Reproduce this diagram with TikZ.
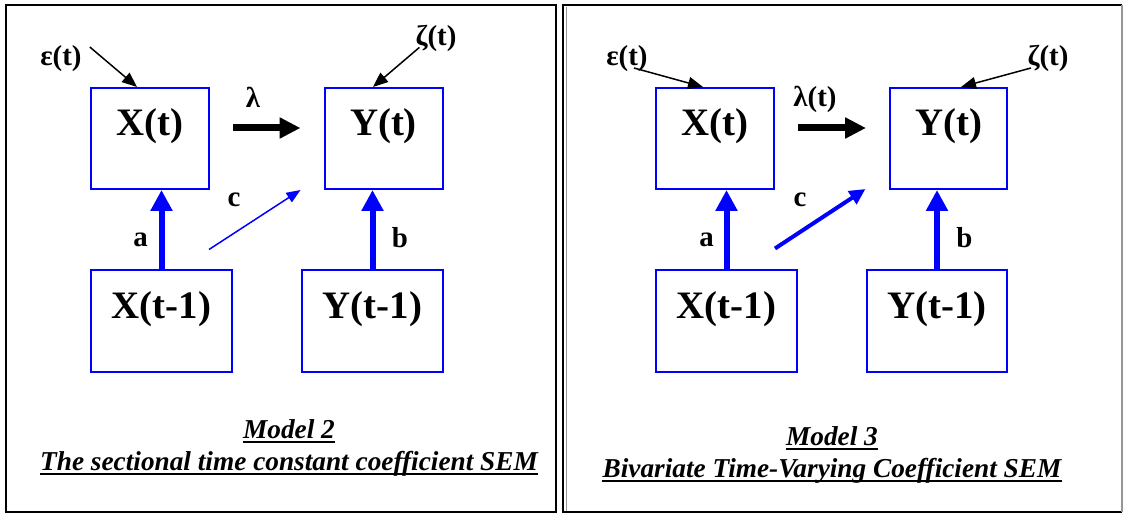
\documentclass[tikz,border=0pt]{standalone}
\usepackage{fontspec}
\setmainfont{Liberation Serif}
\usepackage{tikz}
\usetikzlibrary{arrows.meta, calc}
\definecolor{semblue}{RGB}{0,0,255}
\definecolor{framegray}{RGB}{150,150,150}
\tikzset{
  varbox/.style={rectangle, draw=semblue, line width=2bp, inner sep=0pt,
    text height=48bp, text depth=53bp, font=\fontsize{39}{40}\selectfont\bfseries},
  lbl/.style={inner sep=0pt, font=\fontsize{29}{30}\selectfont\bfseries},
  captext/.style={inner sep=0pt, anchor=base, font=\fontsize{27.4}{29}\selectfont\bfseries\itshape},
  errarrow/.style={-{Triangle[length=15bp,width=12bp]}, line width=1.5bp, black},
  lambdaarrow/.style={-{Triangle[length=21bp,width=20bp]}, line width=7bp, black},
  lagarrow/.style={-{Triangle[length=21bp,width=21bp]}, line width=6bp, color=semblue},
  crossarrow/.style={-{Triangle[length=14bp,width=11bp]}, line width=1.5bp, color=semblue},
  uline/.style={line width=2bp, black}
}

\begin{document}
\begin{tikzpicture}[x=1bp, y=-1bp]
  \useasboundingbox (0,0) rectangle (1124,514);

  % Frames
  \draw[line width=2.5bp] (6,5) rectangle (556,512);
  \draw[line width=2.5bp] (1122,5) -- (563,5) -- (563,512) -- (1122,512);
  \draw[framegray, line width=1bp] (566.5,7) -- (566.5,511);
  \draw[framegray, line width=1.5bp] (1122,5) -- (1122,512);

  % Model 2
  \node[varbox, minimum width=118bp] (xtA) at (150,138.5) {X(t)};
  \node[varbox, minimum width=118bp] (ytA) at (383.5,138.5) {Y(t)};
  \node[varbox, minimum width=141bp] (xlagA) at (161.5,321) {X(t-1)};
  \node[varbox, minimum width=141bp] (ylagA) at (372.5,321) {Y(t-1)};
  \node[lbl] (epsA) at (61,59) {ε(t)};
  \node[lbl] (zetaA) at (436,38) {ζ(t)};
  \node[lbl] (lamA) at (253,97) {λ};
  \node[lbl] (aA) at (140.5,240) {a};
  \node[lbl] (bA) at (400,237.5) {b};
  \node[lbl] (cA) at (234,200) {c};
  \draw[errarrow] ($(epsA.east)+(8,-12)$) -- ($(xtA.north)+(-13,0)$);
  \draw[errarrow] ($(zetaA.south west)+(4,-4)$) -- ($(ytA.north)+(-10.5,0)$);
  \draw[lambdaarrow, shorten <=23bp, shorten >=23bp] ([yshift=10.5bp]xtA.east) -- ([yshift=10.5bp]ytA.west);
  \draw[lagarrow] (xlagA.north) -- (xlagA.north |- xtA.south);
  \draw[lagarrow] (ylagA.north) -- (ylagA.north |- ytA.south);
  \draw[crossarrow] ($(xlagA.north east)+(-24,-20)$) -- ($(ytA.south west)+(-23,0)$);
  \node[captext] (capA1) at (289,438) {Model 2};
  \node[captext] (capA2) at (289,470) {The sectional time constant coefficient SEM};
  \draw[uline] ([yshift=-4bp]capA1.base west) -- ([yshift=-4bp]capA1.base east);
  \draw[uline] ([yshift=-4bp]capA2.base west) -- ([yshift=-4bp]capA2.base east);

  % Model 3
  \node[varbox, minimum width=118bp] (xtB) at (715,138.5) {X(t)};
  \node[varbox, minimum width=117bp] (ytB) at (948.5,138.5) {Y(t)};
  \node[varbox, minimum width=141bp] (xlagB) at (726.5,321) {X(t-1)};
  \node[varbox, minimum width=140bp] (ylagB) at (937,321) {Y(t-1)};
  \node[lbl] (epsB) at (627,59) {ε(t)};
  \node[lbl] (zetaB) at (1048,58.5) {ζ(t)};
  \node[lbl] (lamB) at (815,99.5) {λ(t)};
  \node[lbl] (aB) at (706.5,240) {a};
  \node[lbl] (bB) at (964.5,237.5) {b};
  \node[lbl] (cB) at (800,200) {c};
  \draw[errarrow] ($(epsB.center)+(7,9)$) -- ($(xtB.north)+(-12,0)$);
  \draw[errarrow] ($(zetaB.center)+(-17,9.5)$) -- ($(ytB.north)+(12.5,0)$);
  \draw[lambdaarrow, shorten <=23bp, shorten >=23bp] ([yshift=10.5bp]xtB.east) -- ([yshift=10.5bp]ytB.west);
  \draw[lagarrow] (xlagB.north) -- (xlagB.north |- xtB.south);
  \draw[lagarrow] (ylagB.north) -- (ylagB.north |- ytB.south);
  \draw[crossarrow, line width=4bp, -{Triangle[length=16bp,width=15bp]}] ($(xlagB.north east)+(-23,-21)$) -- ($(ytB.south west)+(-23.5,-1)$);
  \node[captext] (capB1) at (832,445) {Model 3};
  \node[captext] (capB2) at (832,477) {Bivariate Time-Varying Coefficient SEM};
  \draw[uline] ([yshift=-4bp]capB1.base west) -- ([yshift=-4bp]capB1.base east);
  \draw[uline] ([yshift=-4bp]capB2.base west) -- ([yshift=-4bp]capB2.base east);
\end{tikzpicture}
\end{document}
